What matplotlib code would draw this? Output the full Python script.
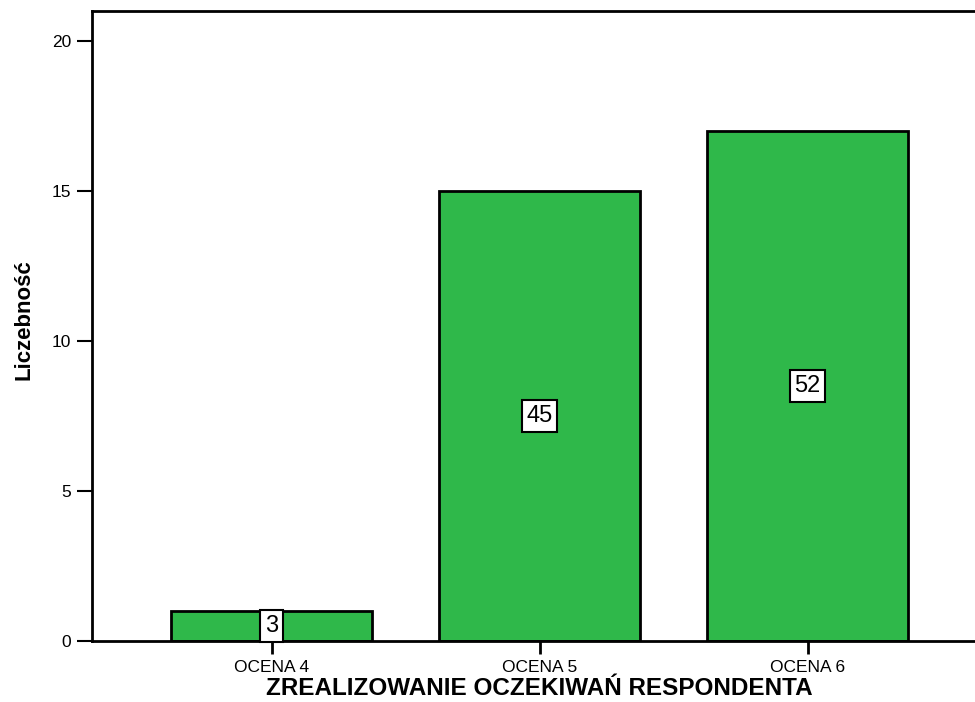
import matplotlib
matplotlib.use("Agg")
import matplotlib.pyplot as plt

# data
categories = ["OCENA 4", "OCENA 5", "OCENA 6"]
counts = [1, 15, 17]
percent_labels = ["3", "45", "52"]

plt.rcParams['font.family'] = ['Liberation Sans', 'DejaVu Sans']

fig = plt.figure(figsize=(9.75, 7.02), dpi=100)
ax = fig.add_axes([0.0944, 0.0869, 0.918, 0.8974])

x = list(range(len(categories)))
ax.bar(x, counts, width=0.75, color="#2fb84a", edgecolor="black", linewidth=2, zorder=2)

# value boxes in the middle of each bar
for xi, c, lab in zip(x, counts, percent_labels):
    ax.text(xi, c / 2, lab, ha="center", va="center", fontsize=17, zorder=3,
            bbox=dict(boxstyle="square,pad=0.2", facecolor="white", edgecolor="black", linewidth=1.5))

ax.set_xlim(-0.67, 2.67)
ax.set_ylim(0, 21)
ax.set_yticks([0, 5, 10, 15, 20])
ax.set_xticks(x)
ax.set_xticklabels(categories)

ax.spines['right'].set_visible(False)
for s in ['left', 'top', 'bottom']:
    ax.spines[s].set_linewidth(2)

ax.tick_params(axis='y', direction='out', length=11, width=1.5, labelsize=12.5, pad=4)
ax.tick_params(axis='x', direction='out', length=9, width=2, labelsize=12.5, pad=5)

ax.set_xlabel("ZREALIZOWANIE OCZEKIWAŃ RESPONDENTA", fontsize=17.5, fontweight="bold", labelpad=1)
ax.set_ylabel("Liczebność", fontsize=16, fontweight="bold")
ax.yaxis.set_label_coords(-0.064, 0.51)

fig.savefig("out.png", dpi=100)
